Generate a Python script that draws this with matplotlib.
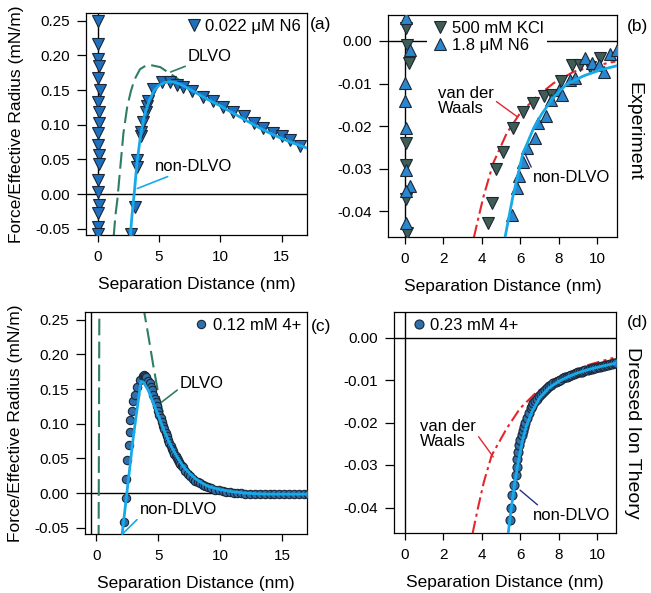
import numpy as np
import matplotlib
matplotlib.use("Agg")
import matplotlib.pyplot as plt
from matplotlib.ticker import FormatStrFormatter

plt.rcParams['font.family'] = ['Liberation Sans', 'DejaVu Sans']
plt.rcParams['font.size'] = 12
plt.rcParams['axes.unicode_minus'] = False

nan = np.nan

# ---- panel (a): experiment, 0.022 uM N6 ----
a_col_x = [0.0, 0.05, 0.0, 0.1, 0.0, 0.19, 0.0, 0.1, 0.1, 0.0, 0.0, 0.1, 0.1, 0.0, 0.0, 0.1, 0.0, 0.0, 0.0]
a_col_y = [0.249, 0.217, 0.194, 0.184, 0.167, 0.150, 0.133, 0.119, 0.102, 0.088, 0.071, 0.056, 0.044,
           0.020, 0.003, -0.016, -0.028, -0.047, -0.057]
a_x = [2.71, 3.05, 3.18, 3.18, 3.5, 3.5, 3.72, 3.91, 4.0, 4.13, 4.54, 5.27, 5.9, 6.44, 6.98, 7.66, 8.6,
       9.42, 10.2, 11.05, 11.9, 12.7, 13.5, 14.3, 15.0, 15.7, 16.5]
a_y = [-0.057, -0.019, 0.049, 0.039, 0.083, 0.089, 0.104, 0.119, 0.127, 0.134, 0.151, 0.161, 0.161,
       0.157, 0.154, 0.148, 0.140, 0.134, 0.126, 0.119, 0.112, 0.103, 0.095, 0.088, 0.083, 0.078, 0.070]
a_fit_x = [2.65, 2.8, 3.0, 3.2, 3.5, 3.8, 4.2, 4.6, 5.0, 5.5, 6.0, 6.5, 7.0, 8, 9, 10, 11, 12, 13, 14, 15, 16, 17.1]
a_fit_y = [-0.062, -0.03, 0.005, 0.045, 0.085, 0.113, 0.135, 0.149, 0.157, 0.161, 0.162, 0.160, 0.156,
           0.146, 0.136, 0.127, 0.117, 0.107, 0.097, 0.088, 0.080, 0.073, 0.066]
a_dlvo_x = [1.3, 1.45, 1.6, 1.8, 2.1, 2.4, 2.7, 3.0, 3.45, 4.0, 4.3, 5.1, 6.2, 7.0, 7.4]
a_dlvo_y = [-0.062, -0.03, -0.009, 0.03, 0.088, 0.125, 0.148, 0.165, 0.180, 0.186, 0.186, 0.183, 0.170,
            0.160, 0.156]

# ---- panel (b): experiment, 500 mM KCl and 1.8 uM N6 ----
kcl_x = [0.05, 0.1, 0.23, 0.05, 0.05, 0.05, 0.1, 4.35, 4.52, 4.74, 5.09, 5.65, 6.14, 6.69, 7.22, 7.65,
         8.12, 8.7, 9.13, 9.65, 10.17]
kcl_y = [0.003, -0.001, -0.0051, -0.024, -0.029, -0.037, -0.0451, -0.0427, -0.038, -0.030, -0.026,
         -0.0204, -0.0166, -0.0146, -0.013, -0.0127, -0.0095, -0.0056, -0.0056, -0.006, -0.0041]
n6_x = [0.05, 0.26, 0.0, 0.0, 0.05, 0.05, 0.26, 0.05, 0.05, 5.56, 5.82, 5.96, 6.17, 6.38, 6.78, 6.95,
        7.36, 7.6, 8.0, 8.2, 8.6, 8.87, 9.39, 9.74, 10.09, 10.35, 10.7, 11.05]
n6_y = [0.0053, -0.0021, -0.0099, -0.0142, -0.0205, -0.0302, -0.0340, -0.0353, -0.0427, -0.0408,
        -0.0345, -0.0318, -0.0283, -0.0251, -0.0228, -0.0193, -0.0177, -0.0138, -0.0115, -0.0127,
        -0.0092, -0.0088, -0.0041, -0.0052, -0.0056, -0.0073, -0.0031, -0.0020]
b_fit_x = [5.22, 5.62, 6.14, 6.69, 7.13, 7.74, 8.43, 9.3, 10.17, 11.04]
b_fit_y = [-0.046, -0.0366, -0.0265, -0.0206, -0.0171, -0.0132, -0.0101, -0.0082, -0.0068, -0.0058]
b_vdw_x = [3.6, 4.09, 4.6, 5.3, 5.99, 6.86, 7.74, 8.79, 9.83, 10.96]
b_vdw_y = [-0.046, -0.0366, -0.0287, -0.0217, -0.017, -0.0131, -0.0099, -0.0072, -0.0059, -0.0048]

# ---- panel (c): dressed ion theory, 0.12 mM 4+ ----
c_x = [2.24, 2.38, 2.43, 2.51, 2.62, 2.68, 2.7, 2.84, 2.97, 3.1, 3.3, 3.51, 3.73, 3.85, 3.95, 4.05,
       4.2, 4.3, 4.4, 4.5, 4.6, 4.7, 4.8, 4.9, 5.0, 5.1, 5.2, 5.3, 5.4, 5.5, 5.6, 5.7, 5.8, 5.9, 6.0,
       6.1, 6.2, 6.3, 6.4, 6.5, 6.6, 6.7, 6.8, 6.9, 7.0, 7.2, 7.4, 7.6, 7.8, 8.0, 8.2, 8.4, 8.6, 8.8,
       9.0, 9.3, 9.6, 9.9, 10.2, 10.5, 10.8, 11.1, 11.4, 11.7, 12.0, 12.4, 12.8, 13.2, 13.6, 14.0,
       14.4, 14.8, 15.2, 15.6, 16.0, 16.4, 16.8, 17.1]
c_y = [-0.041, -0.0073, 0.021, 0.047, 0.069, 0.088, 0.105, 0.119, 0.132, 0.141, 0.153, 0.163, 0.169,
       0.170, 0.169, 0.167, 0.162, 0.158, 0.153, 0.148, 0.142, 0.136, 0.131, 0.125, 0.119, 0.113,
       0.108, 0.102, 0.097, 0.092, 0.087, 0.082, 0.077, 0.072, 0.068, 0.064, 0.061, 0.057, 0.054,
       0.051, 0.048, 0.045, 0.042, 0.039, 0.037, 0.032, 0.028, 0.024, 0.021, 0.018, 0.016, 0.014,
       0.012, 0.010, 0.009, 0.007, 0.005, 0.004, 0.003, 0.002, 0.001, 0.0005, 0.0, -0.0005, -0.001,
       -0.0012, -0.0015, -0.0015, -0.0015, -0.0015, -0.0015, -0.0015, -0.0015, -0.0015, -0.0015,
       -0.0015, -0.0015, -0.0015]
c_fit_x = [2.08, 3.0, 3.6, 3.8, 4.2, 4.6, 5.0, 5.5, 6.0, 6.5, 7.0, 7.5, 8.0, 8.5, 9.0, 10, 11, 12, 13, 14, 17.1]
c_fit_y = [-0.0595, 0.083, 0.161, 0.160, 0.148, 0.130, 0.112, 0.089, 0.069, 0.053, 0.039, 0.029, 0.021,
           0.015, 0.010, 0.005, 0.002, 0.0, -0.001, -0.0015, -0.0015]
c_dlvo_x = [0.18, 0.24, nan, 3.80, 3.86, 4.19, 4.59, 5.08, 5.5, 5.9]
c_dlvo_y = [-0.07, 0.27, nan, 0.27, 0.262, 0.228, 0.185, 0.136, 0.108, 0.086]

# ---- panel (d): dressed ion theory, 0.23 mM 4+ ----
d_x = [5.46, 5.51, 5.58, 5.68, 5.75, 5.81, 5.84, 5.89, 5.94, 6.0, 6.07, 6.13, 6.19, 6.26, 6.33, 6.43,
       6.53, 6.6, 6.68, 6.76, 6.85, 6.95, 7.05, 7.15, 7.28, 7.4, 7.5, 7.6, 7.71, 7.83, 7.95, 8.07, 8.2,
       8.3, 8.41, 8.53, 8.65, 8.78, 8.9, 9.0, 9.1, 9.18, 9.27, 9.38, 9.5, 9.6, 9.7, 9.8, 9.9, 10.02,
       10.14, 10.25, 10.35, 10.45, 10.55, 10.65, 10.75, 10.85, 10.95]
d_y = [-0.043, -0.040, -0.0371, -0.0347, -0.0324, -0.0304, -0.0285, -0.0269, -0.0253, -0.0240,
       -0.0230, -0.0220, -0.0210, -0.0200, -0.0190, -0.0178, -0.0167, -0.0161, -0.0155, -0.0149,
       -0.0144, -0.0138, -0.0133, -0.0128, -0.0124, -0.0119, -0.0115, -0.0111, -0.0108, -0.0105,
       -0.0102, -0.0099, -0.0096, -0.0094, -0.0093, -0.0090, -0.0088, -0.0086, -0.0084, -0.0082,
       -0.0081, -0.0080, -0.0079, -0.0077, -0.0076, -0.0074, -0.0073, -0.0072, -0.0071, -0.0070,
       -0.0069, -0.0067, -0.0066, -0.0065, -0.0064, -0.0063, -0.0062, -0.0061, -0.0060]
d_fit_x = [5.37, 5.5, 5.7, 5.9, 6.1, 6.3, 6.6, 7.0, 7.5, 8.0, 8.5, 9.0, 9.5, 10.0, 10.5, 11.0]
d_fit_y = [-0.046, -0.041, -0.0345, -0.029, -0.0245, -0.021, -0.0175, -0.0142, -0.0118, -0.0103,
           -0.0092, -0.0083, -0.0076, -0.0070, -0.0065, -0.0060]
d_vdw_x = [3.52, 3.8, 4.1, 4.51, 5.29, 5.98, 6.85, 7.5, 8.5, 9.5, 10.83]
d_vdw_y = [-0.046, -0.040, -0.034, -0.0277, -0.0214, -0.0167, -0.0128, -0.011, -0.0085, -0.0065, -0.0048]

FIT = '#17aaea'
DLVO = '#2f7d62'
VDW = '#e3262d'
NAVY = '#2b2f86'
EDGE = '#1c2733'
TRI = '#1f6fbf'
TRI_B = '#2b86d0'
KCL = '#3f5d54'
CIRC = '#2e6fae'

TICK_FS = 11
LABEL_FS = 12.5
TEXT_FS = 12

W, H = 651, 593
fig = plt.figure(figsize=(W / 100, H / 100), dpi=100)


def px_axes(l, t, r, b):
    return fig.add_axes([l / W, 1 - b / H, (r - l) / W, (b - t) / H])


def style(ax):
    for s in ax.spines.values():
        s.set_linewidth(0.9)
    ax.tick_params(direction='out', width=0.9, top=False, right=False, labelsize=TICK_FS)
    ax.tick_params(axis='x', length=5, pad=6)
    ax.tick_params(axis='y', length=6.5, pad=5)
    ax.set_xlabel('Separation Distance (nm)', labelpad=9, fontsize=LABEL_FS)


ax_a = px_axes(86, 13, 307, 235)
ax_b = px_axes(388, 15, 617, 237)
ax_c = px_axes(85, 312, 307, 534)
ax_d = px_axes(394, 312, 616, 533)

# (a)
ax = ax_a
ax.axhline(0, color='black', lw=1, zorder=1)
ax.axvline(0, color='black', lw=1, zorder=1)
ax.plot(a_dlvo_x, a_dlvo_y, color=DLVO, lw=1.5, dashes=(8, 3), zorder=2)
ax.plot(a_col_x + a_x, a_col_y + a_y, 'v', ls='none', ms=8, mfc=TRI, mec=EDGE, mew=0.8,
        zorder=3, label='0.022 \u03bcM N6')
ax.plot(a_fit_x, a_fit_y, color=FIT, lw=2, zorder=4)
ax.set_xlim(-0.95, 17.05)
ax.set_ylim(-0.059, 0.261)
ax.set_xticks([0, 5, 10, 15])
ax.set_yticks([-0.05, 0, 0.05, 0.10, 0.15, 0.20, 0.25])
ax.yaxis.set_major_formatter(FormatStrFormatter('%.2f'))
ax.set_ylabel('Force/Effective Radius (mN/m)', fontsize=LABEL_FS, labelpad=8)
ax.annotate('DLVO', xy=(5.95, 0.176), xytext=(7.36, 0.198), va='center', fontsize=TEXT_FS,
            arrowprops=dict(arrowstyle='-', color=DLVO, lw=1.2, shrinkA=0, shrinkB=0))
ax.annotate('non-DLVO', xy=(3.23, 0.008), xytext=(4.68, 0.040), va='center', fontsize=TEXT_FS,
            arrowprops=dict(arrowstyle='-', color=FIT, lw=1.2, shrinkA=0, shrinkB=0))
ax.legend(loc='upper right', frameon=False, handletextpad=0.1, borderaxespad=0.15,
          handlelength=1.2, borderpad=0.2, fontsize=TEXT_FS)
style(ax)

# (b)
ax = ax_b
ax.axhline(0, color='black', lw=1, zorder=1)
ax.axvline(0, color='black', lw=1, zorder=1)
ax.plot(b_vdw_x, b_vdw_y, color=VDW, lw=1.5, dashes=(6, 2, 1.5, 2), zorder=2)
ax.plot(kcl_x, kcl_y, 'v', ls='none', ms=8, mfc=KCL, mec=EDGE, mew=0.8, zorder=3,
        label='500 mM KCl')
ax.plot(n6_x, n6_y, '^', ls='none', ms=8, mfc=TRI_B, mec=EDGE, mew=0.8, zorder=3,
        label='1.8 \u03bcM N6')
ax.plot(b_fit_x, b_fit_y, color=FIT, lw=2, zorder=4)
ax.set_xlim(-0.87, 11.04)
ax.set_ylim(-0.046, 0.0061)
ax.set_xticks([0, 2, 4, 6, 8, 10])
ax.set_yticks([-0.04, -0.03, -0.02, -0.01, 0.0])
ax.yaxis.set_major_formatter(FormatStrFormatter('%.2f'))
ax.annotate('van der\nWaals', xy=(5.83, -0.0177), xytext=(1.72, -0.0141), va='center',
            linespacing=1.0, fontsize=TEXT_FS,
            arrowprops=dict(arrowstyle='-', color=VDW, lw=1.0, shrinkA=0, shrinkB=0,
                            relpos=(1.0, 0.55)))
ax.annotate('non-DLVO', xy=(6.21, -0.026), xytext=(6.68, -0.032), va='center', fontsize=TEXT_FS,
            arrowprops=dict(arrowstyle='-', color=NAVY, lw=1.0, shrinkA=0, shrinkB=0,
                            relpos=(0.0, 0.9)))
leg = ax.legend(loc='upper left', bbox_to_anchor=(0.16, 1.0), frameon=True, fancybox=False,
                facecolor='white', edgecolor='none', framealpha=1, handletextpad=0.1,
                handlelength=1.2, borderpad=0.2, labelspacing=0.15, borderaxespad=0.15,
                fontsize=TEXT_FS)
leg.set_zorder(5)
style(ax)

# (c)
ax = ax_c
ax.axhline(0, color='black', lw=1, zorder=1)
ax.axvline(-0.4, color='black', lw=1, zorder=1)
ax.plot(c_dlvo_x, c_dlvo_y, color=DLVO, lw=1.5, dashes=(8, 3), zorder=2)
ax.plot(c_x, c_y, 'o', ls='none', ms=6, mfc=CIRC, mec=EDGE, mew=0.8, zorder=3,
        label='0.12 mM 4+')
ax.plot(c_fit_x, c_fit_y, color=FIT, lw=2, zorder=4)
ax.set_xlim(-0.92, 17.03)
ax.set_ylim(-0.059, 0.261)
ax.set_xticks([0, 5, 10, 15])
ax.set_yticks([-0.05, 0, 0.05, 0.10, 0.15, 0.20, 0.25])
ax.yaxis.set_major_formatter(FormatStrFormatter('%.2f'))
ax.set_ylabel('Force/Effective Radius (mN/m)', fontsize=LABEL_FS, labelpad=8)
ax.annotate('DLVO', xy=(5.27, 0.131), xytext=(6.76, 0.158), va='center', fontsize=TEXT_FS,
            arrowprops=dict(arrowstyle='-', color=DLVO, lw=1.2, shrinkA=0, shrinkB=0,
                            relpos=(0.0, 0.2)))
ax.annotate('non-DLVO', xy=(2.08, -0.0595), xytext=(3.51, -0.0235), va='center', fontsize=TEXT_FS,
            arrowprops=dict(arrowstyle='-', color=FIT, lw=1.2, shrinkA=0, shrinkB=0,
                            relpos=(0.0, 0.0)))
ax.legend(loc='upper right', frameon=False, handletextpad=0.1, borderaxespad=0.15,
          handlelength=1.2, borderpad=0.2, fontsize=TEXT_FS)
style(ax)

# (d)
ax = ax_d
ax.axhline(0, color='black', lw=1, zorder=1)
ax.axvline(0, color='black', lw=1, zorder=1)
ax.plot(d_vdw_x, d_vdw_y, color=VDW, lw=1.5, dashes=(6, 2, 1.5, 2), zorder=2)
ax.plot(d_x, d_y, 'o', ls='none', ms=6.5, mfc=CIRC, mec=EDGE, mew=0.8, zorder=3,
        label='0.23 mM 4+')
ax.plot(d_fit_x, d_fit_y, color=FIT, lw=2, zorder=4)
ax.set_xlim(-0.57, 10.97)
ax.set_ylim(-0.046, 0.006)
ax.set_xticks([0, 2, 4, 6, 8, 10])
ax.set_yticks([-0.04, -0.03, -0.02, -0.01, 0.0])
ax.yaxis.set_major_formatter(FormatStrFormatter('%.2f'))
ax.annotate('van der\nWaals', xy=(4.59, -0.0281), xytext=(0.78, -0.0228), va='center',
            linespacing=1.0, fontsize=TEXT_FS,
            arrowprops=dict(arrowstyle='-', color=VDW, lw=1.0, shrinkA=0, shrinkB=0,
                            relpos=(1.0, 0.55)))
ax.annotate('non-DLVO', xy=(5.98, -0.0359), xytext=(6.66, -0.0418), va='center', fontsize=TEXT_FS,
            arrowprops=dict(arrowstyle='-', color=NAVY, lw=1.0, shrinkA=0, shrinkB=0,
                            relpos=(0.1, 1.0)))
ax.legend(loc='upper left', bbox_to_anchor=(0.04, 1.0), frameon=False, handletextpad=0.1,
          borderaxespad=0.15, handlelength=1.2, borderpad=0.2, fontsize=TEXT_FS)
style(ax)

# panel labels and side titles
fig.text(321 / W, 1 - 25 / H, '(a)', ha='center', va='center', fontsize=12.5)
fig.text(638 / W, 1 - 26 / H, '(b)', ha='center', va='center', fontsize=12.5)
fig.text(321 / W, 1 - 326 / H, '(c)', ha='center', va='center', fontsize=12.5)
fig.text(637 / W, 1 - 322 / H, '(d)', ha='center', va='center', fontsize=12.5)
fig.text(634 / W, 1 - 131 / H, 'Experiment', rotation=270, ha='center', va='center', fontsize=14)
fig.text(633 / W, 1 - 433 / H, 'Dressed Ion Theory', rotation=270, ha='center', va='center',
         fontsize=14)

fig.savefig('out.png', dpi=100)
